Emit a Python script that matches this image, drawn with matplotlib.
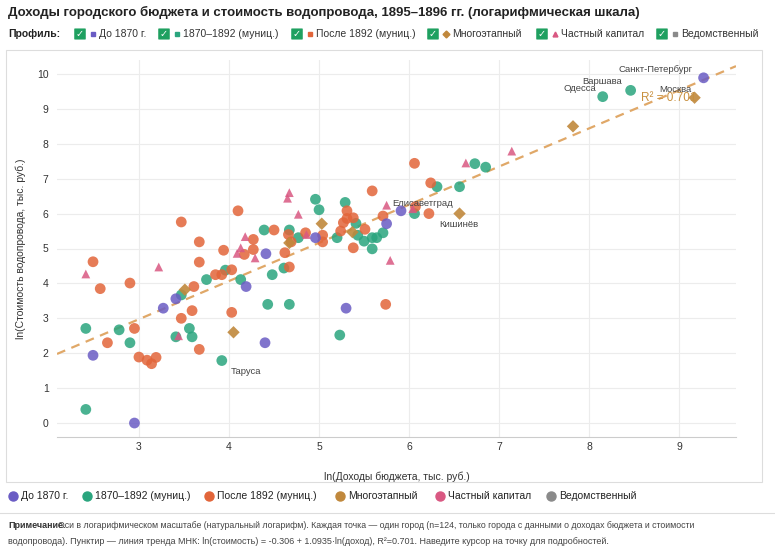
import matplotlib
matplotlib.use("Agg")
import matplotlib.pyplot as plt
import numpy as np
from matplotlib.patches import Rectangle, FancyBboxPatch

plt.rcParams['font.family'] = ['Liberation Sans', 'DejaVu Sans']

# Data (ln income, ln cost)
pre1870_x = [2.49, 2.95, 3.27, 3.41, 4.19, 4.41, 4.40, 4.96, 5.30, 5.75, 5.91, 9.27]
pre1870_y = [1.94, 0.00, 3.29, 3.56, 3.91, 4.85, 2.30, 5.31, 3.29, 5.71, 6.08, 9.89]
mid_x = [2.41, 2.41, 2.78, 2.90, 3.41, 3.47, 3.56, 3.59, 3.75, 3.96, 4.13, 4.39, 4.48, 4.43,
         4.61, 4.67, 4.67, 4.77, 4.96, 5.00, 5.20, 5.29, 5.23, 5.41, 5.43, 5.50, 5.59, 5.59,
         5.64, 5.71, 6.06, 3.92, 8.15, 8.46, 6.73, 6.85, 6.31, 6.56]
mid_y = [2.71, 0.39, 2.67, 2.30, 2.47, 3.67, 2.71, 2.47, 4.11, 4.38, 4.11, 5.53, 4.25, 3.40,
         4.44, 5.53, 3.40, 5.31, 6.41, 6.11, 5.31, 6.32, 2.52, 5.72, 5.38, 5.21, 5.31, 4.99,
         5.31, 5.45, 6.00, 1.79, 9.35, 9.53, 7.43, 7.33, 6.77, 6.77]
post_x = [2.49, 2.57, 2.65, 2.90, 2.95, 3.00, 3.09, 3.14, 3.19, 3.47, 3.47, 3.59, 3.61, 3.67,
          3.67, 3.67, 3.85, 3.92, 3.94, 4.03, 4.03, 4.10, 4.17, 4.27, 4.27, 4.50, 4.62, 4.67,
          4.66, 4.69, 4.85, 5.04, 5.04, 5.24, 5.27, 5.31, 5.31, 5.38, 5.38, 5.51, 5.59, 5.71,
          5.74, 6.06, 6.24, 6.22, 6.07]
post_y = [4.62, 3.85, 2.30, 4.01, 2.71, 1.89, 1.80, 1.70, 1.88, 5.76, 3.00, 3.22, 3.91, 5.19,
          4.61, 2.11, 4.25, 4.25, 4.95, 4.39, 3.17, 6.08, 4.83, 5.26, 4.97, 5.53, 4.88, 4.47,
          5.40, 5.19, 5.45, 5.38, 5.19, 5.50, 5.74, 6.08, 5.86, 5.88, 5.02, 5.55, 6.65, 5.93,
          3.40, 7.44, 6.88, 6.00, 6.20]
multi_x = [3.51, 4.05, 4.67, 5.03, 5.37, 7.82, 9.17, 6.56]
multi_y = [3.82, 2.60, 5.16, 5.71, 5.47, 8.50, 9.32, 6.00]
priv_x = [2.41, 3.22, 3.44, 4.09, 4.13, 4.18, 4.29, 4.65, 4.67, 4.77, 4.86, 5.75, 5.79, 6.04,
          6.63, 7.14]
priv_y = [4.27, 4.47, 2.50, 4.86, 5.02, 5.34, 4.73, 6.44, 6.60, 5.98, 5.40, 6.24, 4.66, 6.14,
          7.45, 7.79]

labels = [("Санкт-Петербург", 9.27, 9.89, -0.12, 0.12, 'right'),
          ("Варшава", 8.46, 9.53, -0.1, 0.13, 'right'),
          ("Одесса", 8.15, 9.35, -0.07, 0.1, 'right'),
          ("Москва", 9.17, 9.32, -0.03, 0.12, 'right'),
          ("Елисаветград", 5.74, 6.25, 0.07, -0.1, 'left'),
          ("Кишинёв", 6.56, 6.00, -0.22, -0.45, 'left'),
          ("Таруса", 3.92, 1.79, 0.1, -0.45, 'left')]

a, b = -0.306, 1.0935

C_BLUE = '#6a5cc4'
C_GREEN = '#2aa57e'
C_ORANGE = '#e2653a'
C_BROWN = '#c0883c'
C_PINK = '#d95882'
C_GRAY = '#8a8a8a'

fig = plt.figure(figsize=(7.75, 5.56), dpi=100)
ax = fig.add_axes([57/775, 1-437/556, (736-57)/775, (437-60)/556])

xlim = (2.09, 9.63)
ax.set_xlim(*xlim)
ax.set_ylim(-0.4, 10.4)

ax.scatter(mid_x, mid_y, s=60, c=C_GREEN, alpha=0.85, edgecolors='none', zorder=3)
ax.scatter(post_x, post_y, s=60, c=C_ORANGE, alpha=0.85, edgecolors='none', zorder=3)
ax.scatter(pre1870_x, pre1870_y, s=60, c=C_BLUE, alpha=0.85, edgecolors='none', zorder=3)
ax.scatter(priv_x, priv_y, s=40, marker='^', c=C_PINK, alpha=0.85, edgecolors='none', zorder=3)
ax.scatter(multi_x, multi_y, s=40, marker='D', c=C_BROWN, alpha=0.9, edgecolors='none', zorder=3)

xs = np.array(xlim)
ax.plot(xs, a + b*xs, ls=(0, (4, 3)), color='#e0a868', lw=1.6, zorder=2)
ax.text(8.88, 9.3, "R² = 0.701", color='#c8903f', fontsize=8.5, ha='center', va='center', zorder=4)

for t, x, y, dx, dy, ha in labels:
    ax.text(x+dx, y+dy, t, fontsize=6.8, color='#444444', ha=ha, va='bottom', zorder=4)

ax.set_xticks([3, 4, 5, 6, 7, 8, 9])
ax.set_yticks(range(0, 11))
ax.tick_params(labelsize=7.5, colors='#333333', length=0)
ax.tick_params(axis='y', pad=6)
ax.grid(True, color='#ececec', lw=0.8)
ax.set_axisbelow(True)
for s in ax.spines.values():
    s.set_visible(False)
ax.spines['bottom'].set_visible(True)
ax.spines['bottom'].set_color('#cccccc')
ax.set_xlabel("ln(Доходы бюджета, тыс. руб.)", fontsize=7.5, color='#333333', labelpad=14)
ax.set_ylabel("ln(Стоимость водопровода, тыс. руб.)", fontsize=7.5, color='#333333', labelpad=8)

# panel border
fig.patches.append(Rectangle((6/775, 1-482/556), (762-6)/775, (482-50)/556, transform=fig.transFigure,
                             fill=False, edgecolor='#dddddd', lw=0.8))

fig.text(8/775, 1-12/556, "Доходы городского бюджета и стоимость водопровода, 1895–1896 гг. (логарифмическая шкала)",
         fontsize=9.5, fontweight='bold', color='#222222', va='center')

# profile row
y0 = 1-34/556
fig.text(8/775, y0, "Профиль:", fontsize=7.5, fontweight='bold', color='#222222', va='center')
items = [("До 1870 г.", C_BLUE, 's', 75), ("1870–1892 (муниц.)", C_GREEN, 's', 159),
         ("После 1892 (муниц.)", C_ORANGE, 's', 292), ("Многоэтапный", C_BROWN, 'D', 428),
         ("Частный капитал", C_PINK, '^', 537), ("Ведомственный", C_GRAY, 's', 657)]
for t, c, m, px in items:
    fig.patches.append(FancyBboxPatch((px/775, y0-5/556), 10/775, 10/556, boxstyle='round,pad=0.001',
                                      transform=fig.transFigure, facecolor='#1fa060', edgecolor='none'))
    fig.text((px+5)/775, y0, "✓", fontsize=7, color='white', ha='center', va='center', fontweight='bold')
    fig.lines.append(plt.Line2D([(px+18)/775], [y0], marker=m, color=c, markersize=3.5,
                                transform=fig.transFigure))
    fig.text((px+24)/775, y0, t, fontsize=7.5, color='#333333', va='center')

# bottom legend
yl = 1-496/556
leg = [("До 1870 г.", C_BLUE, 9), ("1870–1892 (муниц.)", C_GREEN, 83), ("После 1892 (муниц.)", C_ORANGE, 205),
       ("Многоэтапный", C_BROWN, 336), ("Частный капитал", C_PINK, 436), ("Ведомственный", C_GRAY, 547)]
for t, c, px in leg:
    fig.lines.append(plt.Line2D([(px+4)/775], [yl], marker='o', color=c, markersize=6.5,
                                transform=fig.transFigure))
    fig.text((px+12)/775, yl, t, fontsize=7.5, color='#222222', va='center')

fig.lines.append(plt.Line2D([0, 1], [1-513/556]*2, color='#dddddd', lw=0.8, transform=fig.transFigure))
fig.text(8/775, 1-526/556, "Примечание.", fontsize=6.5, color='#333333', va='center', fontweight='bold')
fig.text(58/775, 1-526/556,
         "Оси в логарифмическом масштабе (натуральный логарифм). Каждая точка — один город (n=124, только города с данными о доходах бюджета и стоимости",
         fontsize=6.3, color='#444444', va='center')
fig.text(8/775, 1-542/556,
         "водопровода). Пунктир — линия тренда МНК: ln(стоимость) = -0.306 + 1.0935·ln(доход), R²=0.701. Наведите курсор на точку для подробностей.",
         fontsize=6.5, color='#444444', va='center')

fig.savefig("out.png", dpi=100, facecolor='white')
